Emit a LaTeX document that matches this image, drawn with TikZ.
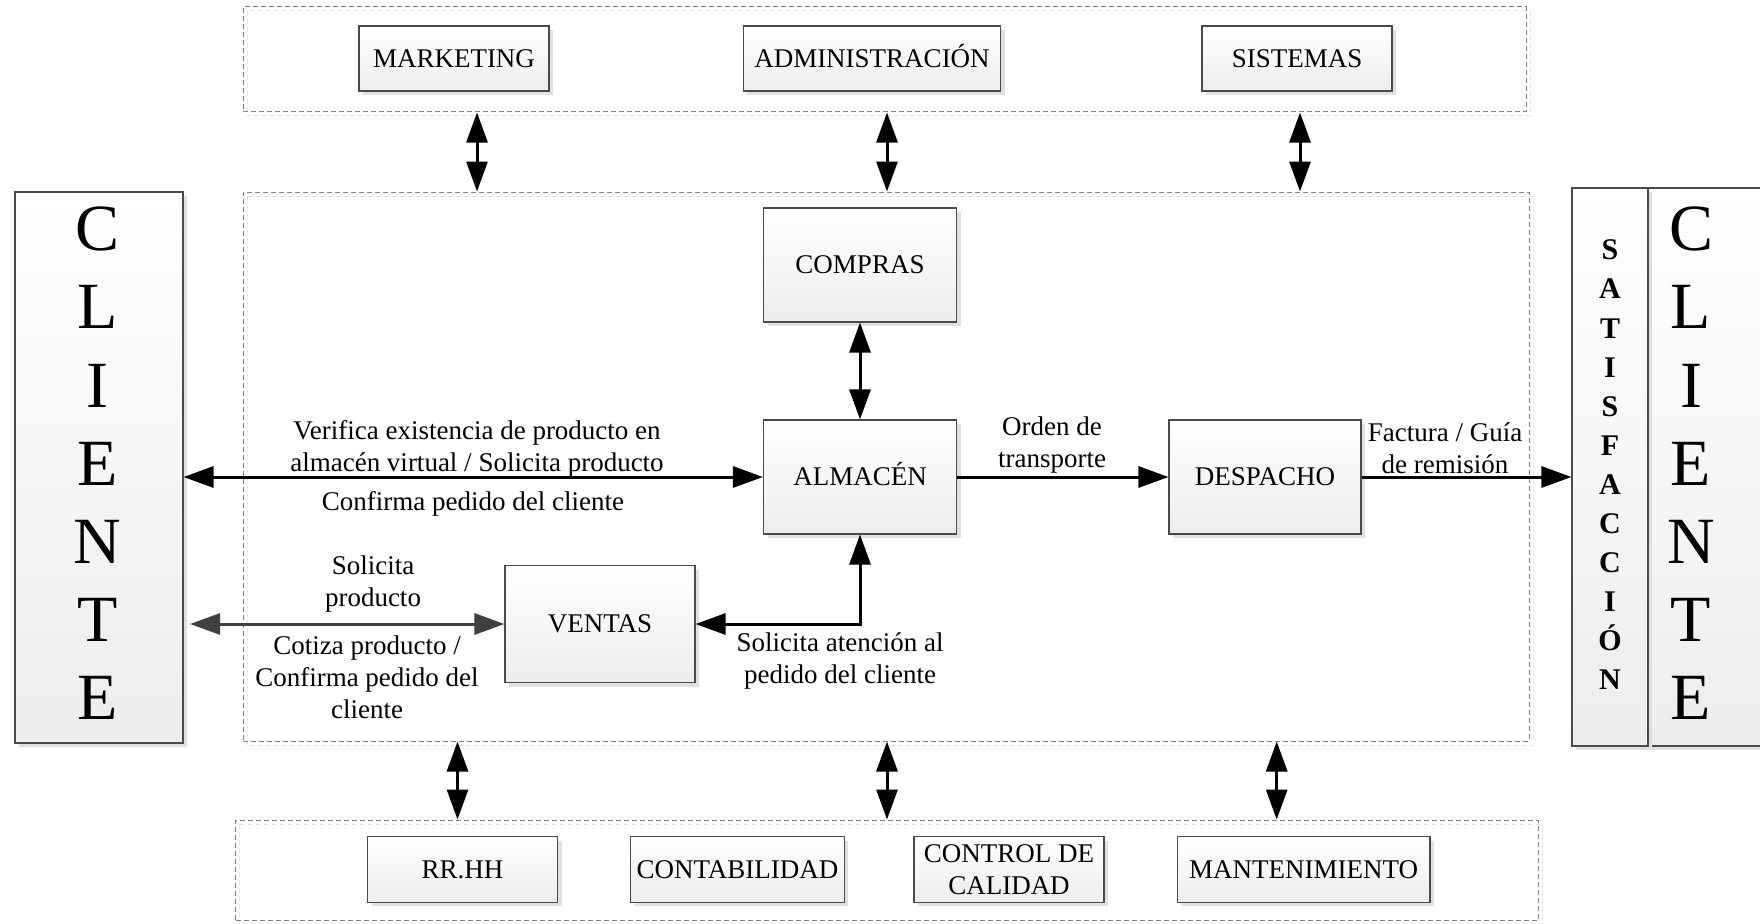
\documentclass[tikz,border=0pt]{standalone}
\usepackage{fontspec}
\setmainfont{Liberation Serif}
\usetikzlibrary{arrows.meta,shadows}
\definecolor{bordc}{HTML}{4A4A4A}
\definecolor{boxbot}{HTML}{EDEDED}
\definecolor{shadc}{HTML}{E0E0E0}
\definecolor{dashc}{HTML}{808080}
\definecolor{dashsh}{HTML}{E4E4E4}
\definecolor{grayarr}{HTML}{404040}
\begin{document}
\begin{tikzpicture}[x=1pt,y=-1pt,
  box/.style={draw=bordc, line width=1.1pt, top color=white, bottom color=boxbot,
    drop shadow={shadow xshift=4pt, shadow yshift=-4pt, fill=shadc, opacity=1},
    inner sep=0pt, align=center, font=\fontsize{27}{32}\selectfont},
  capline/.style={text height=18pt},
  cont/.style={draw=dashc, line width=1pt, dash pattern=on 5pt off 3pt, inner sep=0pt},
  contsh/.style={draw=dashsh, line width=1pt, dash pattern=on 5pt off 3pt},
  lbl/.style={align=center, inner sep=0pt, font=\fontsize{27}{32}\selectfont},
  bigl/.style={align=center, inner sep=0pt, font=\fontsize{66}{78.2}\selectfont},
  satl/.style={align=center, inner sep=0pt, font=\fontsize{30}{39.1}\selectfont\bfseries},
  arr/.style={line width=3pt, -{Triangle[length=30pt,width=21pt]}},
  dbl/.style={line width=3pt, {Triangle[length=30pt,width=21pt]}-{Triangle[length=30pt,width=21pt]}},
]
\useasboundingbox (0,0) rectangle (1760,923);
\clip (0,0) rectangle (1760,923);

% dashed containers (shadow copies first)
\draw[contsh] (247,11) rectangle (1530,116);
\draw[contsh] (247,196) rectangle (1533,745);
\draw[contsh] (239.5,824) rectangle (1542,924);
\node[cont, minimum width=1283pt, minimum height=105pt] (topbox) at (884.5,59.5) {};
\node[cont, minimum width=1286pt, minimum height=549pt] (mainbox) at (886,466.5) {};
\node[cont, minimum width=1302.5pt, minimum height=100pt] (botbox) at (886.75,870) {};

% top boxes
\node[box, capline, minimum width=190pt, minimum height=65pt] (mk) at (454,58.5) {MARKETING};
\node[box, capline, minimum width=257.5pt, minimum height=65pt] (adm) at (872,58.5) {ADMINISTRACIÓN};
\node[box, capline, minimum width=190pt, minimum height=65pt] (sis) at (1297,58.5) {SISTEMAS};

% main boxes
\node[box, capline, minimum width=193pt, minimum height=114pt] (comp) at (860,265) {COMPRAS};
\node[box, capline, minimum width=193pt, minimum height=114pt] (alm) at (860,477) {ALMACÉN};
\node[box, capline, minimum width=192pt, minimum height=114pt] (desp) at (1265,477) {DESPACHO};
\node[box, capline, minimum width=190pt, minimum height=117pt] (vent) at (600,624) {VENTAS};

% client boxes
\node[box, minimum width=168pt, minimum height=551pt] (cli) at (99,467.5) {};
\node[bigl] (clit) at (97.6,463.5) {C\\L\\I\\E\\N\\T\\E};
\node[box, minimum width=168pt, minimum height=558pt] (cli2) at (1732,467) {};
\node[bigl] (cli2t) at (1691,463.5) {C\\L\\I\\E\\N\\T\\E};
\node[box, minimum width=76pt, minimum height=558pt] (sat) at (1610,467) {};
\node[satl] (satt) at (1610,465) {S\\A\\T\\I\\S\\F\\A\\C\\C\\I\\Ó\\N};

% bottom boxes
\node[box, capline, minimum width=190pt, minimum height=65.5pt] (rrhh) at (462.5,869.5) {RR.HH};
\node[box, capline, minimum width=213.6pt, minimum height=65.5pt] (conta) at (737.5,869.5) {CONTABILIDAD};
\node[box, minimum width=190pt, minimum height=65.5pt] (ccal) at (1009,869.5) {CONTROL DE\\CALIDAD};
\node[box, capline, minimum width=252.5pt, minimum height=65.5pt] (mant) at (1303.7,869.5) {MANTENIMIENTO};

% vertical connector positions
\coordinate (xa) at (477,0);
\coordinate (xb) at (887,0);
\coordinate (xc) at (1300,0);
\coordinate (xd) at (457.5,0);
\coordinate (xe) at (1276.7,0);
\coordinate (vl) at (190,624);

\draw[dbl] (topbox.south -| xa) -- (mainbox.north -| xa);
\draw[dbl] (topbox.south -| xb) -- (mainbox.north -| xb);
\draw[dbl] (topbox.south -| xc) -- (mainbox.north -| xc);
\draw[dbl] (mainbox.south -| xd) -- (botbox.north -| xd);
\draw[dbl] (mainbox.south -| xb) -- (botbox.north -| xb);
\draw[dbl] (mainbox.south -| xe) -- (botbox.north -| xe);

% main connectors
\draw[dbl] (comp.south) -- (alm.north);
\draw[dbl] (cli.east |- alm.west) -- (alm.west);
\draw[arr] (alm.east) -- (desp.west);
\draw[arr] (desp.east) -- (sat.west |- desp.east);
\draw[dbl] (alm.south) |- (vent.east);
\draw[dbl, draw=grayarr] (vent.west) -- (vl);

% labels
\node[lbl] (l1) at (477,449) {Verifica existencia de producto en\\almacén virtual / Solicita producto};
\node[lbl] (l2) at (473,504) {Confirma pedido del cliente};
\node[lbl] (l3) at (1052,445) {Orden de\\transporte};
\node[lbl] (l4) at (1445,448) {Factura / Guía\\de remisión};
\node[lbl] (l5) at (373,584) {Solicita\\producto};
\node[lbl] (l6) at (367,677) {Cotiza producto /\\Confirma pedido del\\cliente};
\node[lbl] (l7) at (840,661) {Solicita atención al\\pedido del cliente};
\end{tikzpicture}
\end{document}
